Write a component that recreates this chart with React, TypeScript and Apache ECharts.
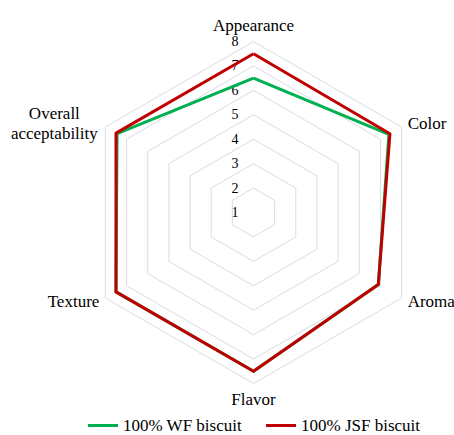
import React, { useEffect, useRef } from "react";
import * as echarts from "echarts";

// Indicators in ECharts order (counter-clockwise from top)
const categories = ["Appearance", "Overall acceptability", "Texture", "Flavor", "Aroma", "Color"];
const wfValues = [6.5, 7.45, 7.5, 7.5, 6.9, 7.4];
const jsfValues = [7.5, 7.5, 7.5, 7.5, 6.9, 7.45];
const seriesNames = ["100% WF biscuit", "100% JSF biscuit"];
const axisMin = 1;
const axisMax = 8;

export default function App() {
  const ref = useRef<HTMLDivElement>(null);
  useEffect(() => {
    if (!ref.current) return;
    const chart = echarts.init(ref.current, null, { renderer: "svg" });
    const font = "'Liberation Serif', 'Times New Roman', serif";
    chart.setOption({
      animation: false,
      textStyle: { fontFamily: font },
      legend: {
        top: 412,
        left: 83,
        icon: "rect",
        itemWidth: 30,
        itemHeight: 3,
        itemGap: 24,
        textStyle: { fontFamily: font, fontSize: 17, color: "#000" },
        data: seriesNames,
      },
      radar: {
        center: [253.5, 212.5],
        radius: 171,
        splitNumber: axisMax - axisMin,
        shape: "polygon",
        nameGap: 7,
        axisName: {
          color: "#000",
          fontFamily: font,
          fontSize: 17,
          lineHeight: 17,
          formatter: (name: string) =>
            name === "Overall acceptability" ? "{a|Overall}\n{a|acceptability}" : name,
          rich: {
            a: { width: 90, align: "center", fontSize: 17, fontFamily: font, color: "#000", lineHeight: 20 },
          },
        },
        axisLine: { show: false },
        axisTick: { show: false },
        axisLabel: { show: false },
        splitArea: { show: false },
        splitLine: { lineStyle: { color: "#d9dce4", width: 1 } },
        indicator: categories.map((c, i) => ({
          name: c,
          min: axisMin,
          max: axisMax,
          ...(i === 0
            ? {
                axisLabel: {
                  show: true,
                  color: "#000",
                  fontFamily: font,
                  fontSize: 14,
                  lineHeight: 14,
                  margin: 15,
                  padding: [2, 0, 0, 0],
                },
              }
            : {}),
        })),
      },
      series: [
        {
          type: "radar",
          symbol: "none",
          data: [
            {
              name: seriesNames[0],
              value: wfValues,
              lineStyle: { color: "#00b050", width: 3 },
              itemStyle: { color: "#00b050" },
            },
            {
              name: seriesNames[1],
              value: jsfValues,
              lineStyle: { color: "#c00000", width: 3 },
              itemStyle: { color: "#c00000" },
            },
          ],
        },
      ],
    });
    return () => chart.dispose();
  }, []);
  return (
    <div
      ref={ref}
      style={{ position: "fixed", left: 0, top: 0, width: 454, height: 435, background: "#fff" }}
    />
  );
}
